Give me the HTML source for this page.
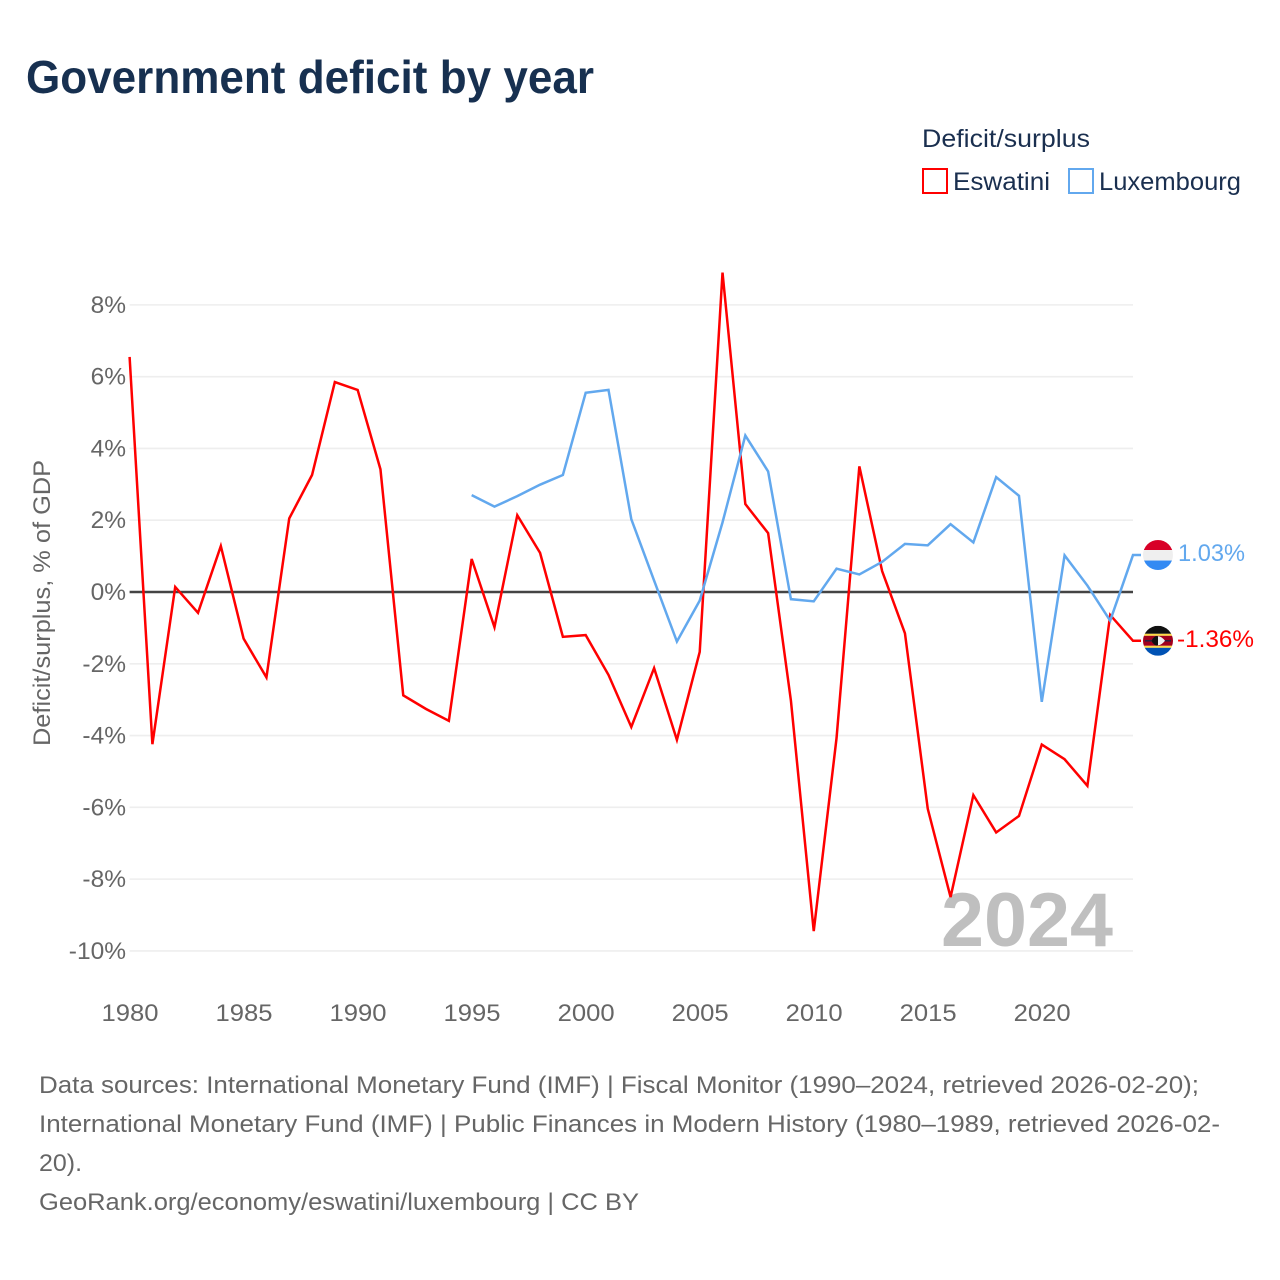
<!DOCTYPE html>
<html lang="en">
<head>
<meta charset="utf-8">
<title>Government deficit by year</title>
<style>
html,body{margin:0;padding:0;background:#fff;width:1280px;height:1280px;overflow:hidden}
svg{display:block}
text{font-family:"Liberation Sans",sans-serif}
</style>
</head>
<body>
<svg id="chart" xmlns="http://www.w3.org/2000/svg" width="1280" height="1280" viewBox="0 0 1280 1280">
  <defs>
    <clipPath id="clip-lux"><circle cx="0" cy="0" r="15"/></clipPath>
    <clipPath id="clip-esw"><circle cx="0" cy="0" r="15"/></clipPath>
  </defs>
  <rect width="1280" height="1280" fill="#ffffff"/>
  <text x="26" y="93" font-size="46" font-weight="700" fill="#173050" textLength="568" lengthAdjust="spacingAndGlyphs">Government deficit by year</text>

  <g>
    <text x="922" y="147" font-size="25" fill="#1a2f4f" textLength="168" lengthAdjust="spacingAndGlyphs">Deficit/surplus</text>
    <rect x="923" y="169" width="24" height="24" fill="#fff" stroke="#ff0000" stroke-width="2"/>
    <text x="953" y="190" font-size="25" fill="#1a2f4f" textLength="97" lengthAdjust="spacingAndGlyphs">Eswatini</text>
    <rect x="1069" y="169" width="24" height="24" fill="#fff" stroke="#62a8ee" stroke-width="2"/>
    <text x="1099" y="190" font-size="25" fill="#1a2f4f" textLength="142" lengthAdjust="spacingAndGlyphs">Luxembourg</text>
  </g>

  <g id="grid"></g>
  <g id="ylabels"></g>
  <g id="xlabels"></g>
  <text transform="translate(50 603) rotate(-90)" text-anchor="middle" font-size="24" fill="#666666" textLength="286" lengthAdjust="spacingAndGlyphs">Deficit/surplus, % of GDP</text>

  <text x="941" y="946" font-size="76" font-weight="700" fill="#bfbfbf" textLength="172" lengthAdjust="spacingAndGlyphs">2024</text>

  <g id="series"></g>

  <g id="flag-lux">
    <g clip-path="url(#clip-lux)">
      <rect x="-15" y="-15" width="30" height="10" fill="#d80027"/>
      <rect x="-15" y="-5" width="30" height="10.5" fill="#efefef"/>
      <rect x="-15" y="5.5" width="30" height="10" fill="#338af3"/>
    </g>
  </g>
  <g id="flag-esw">
    <g clip-path="url(#clip-esw)">
      <rect x="-15" y="-15" width="30" height="8" fill="#111111"/>
      <rect x="-15" y="-7" width="30" height="2" fill="#ffda44"/>
      <rect x="-15" y="-5" width="30" height="10" fill="#a2001d"/>
      <rect x="-15" y="5" width="30" height="2" fill="#ffda44"/>
      <rect x="-15" y="7" width="30" height="8" fill="#0052b4"/>
      <rect x="-13" y="-0.7" width="26" height="1.4" fill="#222244"/>
      <path d="M-7 0 Q0 -9 7 0 Q0 9 -7 0Z" fill="#f0f0f0"/>
      <path d="M-7 0 Q-3 -6 0 -4.5 L0 4.5 Q-3 6 -7 0Z" fill="#111111"/>
    </g>
  </g>

  <g id="end-labels"></g>

  <g font-size="24" fill="#666666">
    <text x="39" y="1093" textLength="1160" lengthAdjust="spacingAndGlyphs">Data sources: International Monetary Fund (IMF) | Fiscal Monitor (1990–2024, retrieved 2026-02-20);</text>
    <text x="39" y="1132" textLength="1181" lengthAdjust="spacingAndGlyphs">International Monetary Fund (IMF) | Public Finances in Modern History (1980–1989, retrieved 2026-02-</text>
    <text x="39" y="1171" textLength="43" lengthAdjust="spacingAndGlyphs">20).</text>
    <text x="39" y="1210" textLength="600" lengthAdjust="spacingAndGlyphs">GeoRank.org/economy/eswatini/luxembourg | CC BY</text>
  </g>
</svg>
<script>
const years = [1980,1981,1982,1983,1984,1985,1986,1987,1988,1989,1990,1991,1992,1993,1994,1995,1996,1997,1998,1999,2000,2001,2002,2003,2004,2005,2006,2007,2008,2009,2010,2011,2012,2013,2014,2015,2016,2017,2018,2019,2020,2021,2022,2023,2024];
const eswatini = [6.55,-4.24,0.14,-0.58,1.28,-1.3,-2.38,2.05,3.26,5.85,5.63,3.42,-2.88,-3.26,-3.59,0.92,-0.98,2.14,1.09,-1.25,-1.2,-2.31,-3.76,-2.12,-4.12,-1.67,8.9,2.45,1.64,-3.03,-9.45,-4.07,3.5,0.58,-1.15,-6.04,-8.5,-5.66,-6.7,-6.24,-4.25,-4.66,-5.4,-0.64,-1.36];
const luxembourg = [null,null,null,null,null,null,null,null,null,null,null,null,null,null,null,2.7,2.38,2.67,2.99,3.26,5.55,5.63,2.03,0.32,-1.38,-0.24,1.94,4.36,3.36,-0.2,-0.26,0.65,0.49,0.84,1.34,1.3,1.89,1.38,3.2,2.68,-3.06,1.02,0.18,-0.8,1.03];
const yTickValues = [8,6,4,2,0,-2,-4,-6,-8,-10];
const xTickValues = [1980,1985,1990,1995,2000,2005,2010,2015,2020];

const NS = 'http://www.w3.org/2000/svg';
const x = function (year) { return 129.6 + (year - 1980) * (1133 - 129.6) / 44; };
const y = function (value) { return 592 - value * 35.89; };

function make(tag, parent, attrs, content) {
  const el = document.createElementNS(NS, tag);
  for (const k in attrs) el.setAttribute(k, attrs[k]);
  if (content !== undefined) el.textContent = content;
  parent.appendChild(el);
  return el;
}

const grid = document.getElementById('grid');
const ylabels = document.getElementById('ylabels');
const xlabels = document.getElementById('xlabels');
const series = document.getElementById('series');
const endLabels = document.getElementById('end-labels');

yTickValues.forEach(function (v) {
  if (v !== 0) {
    const gl = make('line', grid, {x1: x(1980), x2: x(2024), y1: y(v), y2: y(v), stroke: '#eeeeee', 'stroke-width': 1.6});
    
    
  }
  const t = make('text', ylabels, {x: 126, y: y(v) + 8, 'text-anchor': 'end', 'font-size': 24.5, fill: '#666666'}, v + '%');
  
  
});

xTickValues.forEach(function (yr) {
  const t = make('text', xlabels, {x: x(yr) + 0.4, y: 1021, 'text-anchor': 'middle', 'font-size': 24, fill: '#666666', textLength: 57, lengthAdjust: 'spacingAndGlyphs'}, String(yr));
  
  
});

function linePoints(values) {
  const pts = [];
  values.forEach(function (v, i) {
    if (v !== null) pts.push(x(years[i]).toFixed(2) + ',' + y(v).toFixed(2));
  });
  const last = values[values.length - 1];
  pts.push((x(2024) + 8).toFixed(2) + ',' + y(last).toFixed(2));
  return pts.join(' ');
}

const zeroLine = make('line', series, {x1: x(1980), x2: x(2024), y1: y(0), y2: y(0), stroke: '#444444', 'stroke-width': 2.5});



const redLine = make('polyline', series, {points: linePoints(eswatini), fill: 'none', stroke: '#ff0000', 'stroke-width': 2.5});



const blueLine = make('polyline', series, {points: linePoints(luxembourg), fill: 'none', stroke: '#62a8ee', 'stroke-width': 2.5});



const lastLux = luxembourg[luxembourg.length - 1];
const lastEsw = eswatini[eswatini.length - 1];
document.getElementById('flag-lux').setAttribute('transform', 'translate(1158 ' + y(lastLux) + ')');
document.getElementById('flag-esw').setAttribute('transform', 'translate(1158 ' + y(lastEsw) + ')');

const luxLabel = make('text', endLabels, {x: 1178, y: y(lastLux) + 6, 'font-size': 24, fill: '#62a8ee', textLength: 67, lengthAdjust: 'spacingAndGlyphs'}, lastLux.toFixed(2) + '%');



const eswLabel = make('text', endLabels, {x: 1177, y: y(lastEsw) + 6, 'font-size': 24, fill: '#ff0000', textLength: 77, lengthAdjust: 'spacingAndGlyphs'}, lastEsw.toFixed(2) + '%');


</script>
</body>
</html>
